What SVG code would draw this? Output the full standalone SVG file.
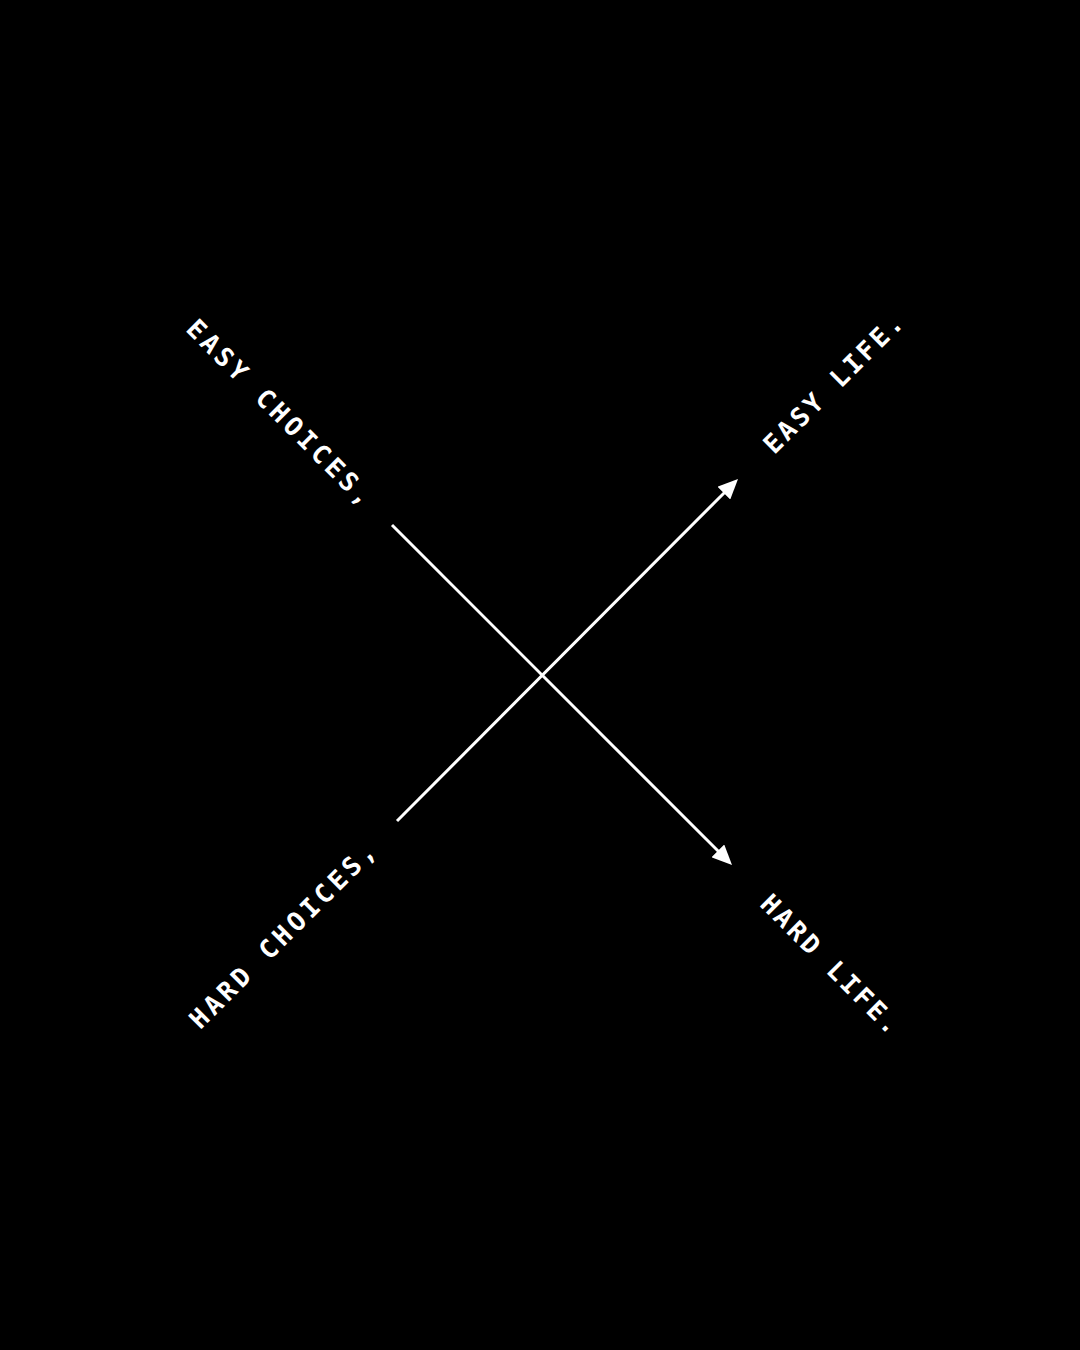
<svg xmlns="http://www.w3.org/2000/svg" width="1080" height="1350" viewBox="0 0 1080 1350">
  <style>
    .lbl { font-family: "DejaVu Sans Mono", "Liberation Mono", monospace; font-size: 26px; font-weight: bold; fill: #ffffff; letter-spacing: 3.9px; dominant-baseline: central; }
    .short { letter-spacing: 3.1px; }
    .conn { stroke: #ffffff; stroke-width: 3; fill: none; marker-end: url(#arrow); }
  </style>
  <defs>
    <marker id="arrow" markerUnits="userSpaceOnUse" viewBox="0 0 20 18" markerWidth="20" markerHeight="18" refX="2" refY="9" orient="auto">
      <path d="M0,0 L20,9 L0,18 z" fill="#ffffff"/>
    </marker>
  </defs>
  <rect x="0" y="0" width="1080" height="1350" fill="#000000"/>
  <g id="connectors">
    <line class="conn" x1="392" y1="525" x2="719.3" y2="852.3"/>
    <line class="conn" x1="397" y1="821" x2="725.3" y2="491.7"/>
  </g>
  <g id="easy-choices">
    <text class="lbl" transform="translate(191,324) rotate(45)">EASY CHOICES,</text>
  </g>
  <g id="hard-choices">
    <text class="lbl" transform="translate(194,1024) rotate(-45)">HARD CHOICES,</text>
  </g>
  <g id="easy-life">
    <text class="lbl short" transform="translate(768,449) rotate(-45)">EASY LIFE.</text>
  </g>
  <g id="hard-life">
    <text class="lbl short" transform="translate(765,899) rotate(45)">HARD LIFE.</text>
  </g>
</svg>
